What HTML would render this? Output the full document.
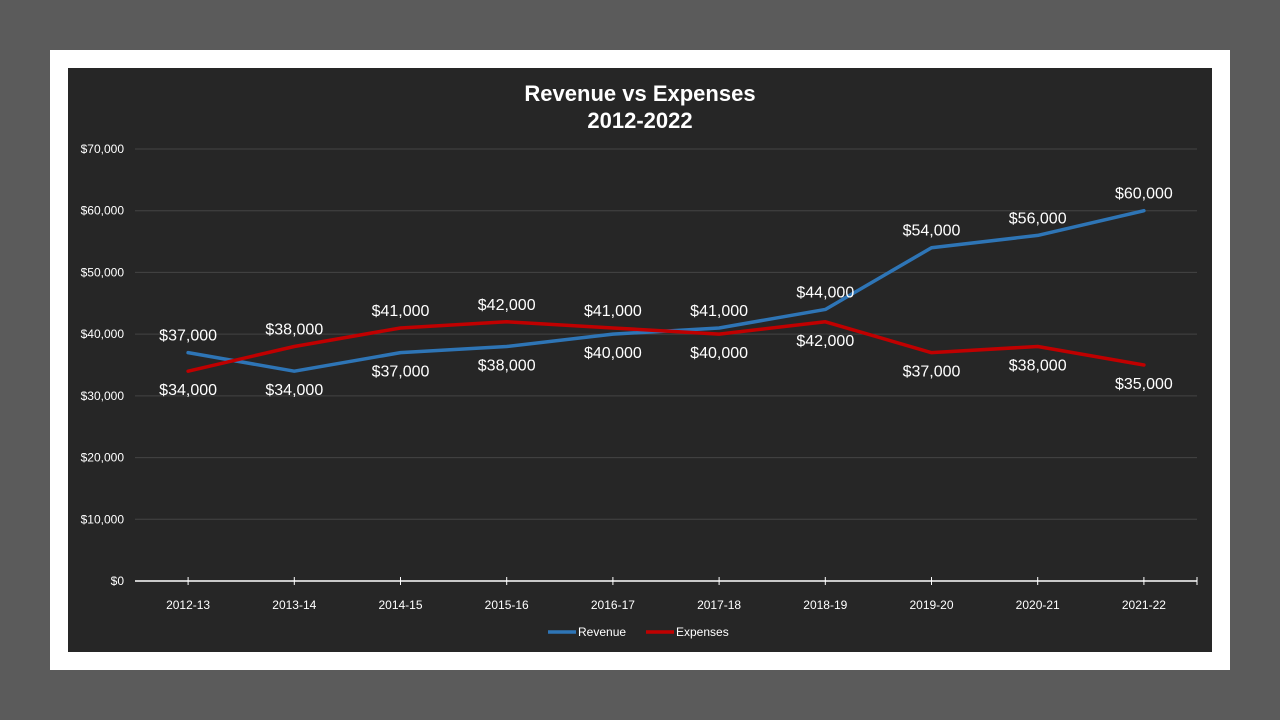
<!DOCTYPE html>
<html><head><meta charset="utf-8"><style>
body{margin:0;width:1280px;height:720px;background:#5b5b5b;overflow:hidden;font-family:"Liberation Sans",Arial,sans-serif}
#frame{position:absolute;left:50px;top:50px;width:1180px;height:620px;background:#fff}
#chart{position:absolute;left:68px;top:68px;width:1144px;height:584px;background:#262626}
svg{position:absolute;left:0;top:0}
</style></head><body>
<div id="frame"></div>
<div id="chart"></div>
<svg id="svg" width="1280" height="720">
<text x="640" y="101" fill="#fff" font-size="22" font-weight="bold" text-anchor="middle">Revenue vs Expenses</text>
<text x="640" y="128" fill="#fff" font-size="22" font-weight="bold" text-anchor="middle">2012-2022</text>
</svg>
<script>
const categories=["2012-13","2013-14","2014-15","2015-16","2016-17","2017-18","2018-19","2019-20","2020-21","2021-22"];
const revenue=[37000,34000,37000,38000,40000,41000,44000,54000,56000,60000];
const expenses=[34000,38000,41000,42000,41000,40000,42000,37000,38000,35000];
const revenueLabelAbove=[1,0,0,0,0,1,1,1,1,1];
const expensesLabelAbove=[0,1,1,1,1,0,0,0,0,0];
const yTicks=[0,10000,20000,30000,40000,50000,60000,70000];
const svg=document.getElementById('svg');
const NS='http://www.w3.org/2000/svg';
const x0=135,x1=1197,yB=581,yT=149,yMax=70000;
const step=(x1-x0)/categories.length;
const X=i=>x0+step*(i+0.5);
const Y=v=>yB-(v/yMax)*(yB-yT);
const fmt=v=>'$'+v.toLocaleString('en-US');
function mk(tag,attrs){const e=document.createElementNS(NS,tag);for(const k in attrs)e.setAttribute(k,attrs[k]);svg.appendChild(e);return e;}
yTicks.forEach(t=>{
 if(t>0){const g=mk('line',{x1:x0,x2:x1,y1:Y(t),y2:Y(t),stroke:'#444','stroke-width':1});
 
 }
 const l=mk('text',{x:124,y:Y(t)+4,fill:'#fff','font-size':12,'text-anchor':'end'});l.textContent=fmt(t);
 
 
});
const ax=mk('line',{x1:x0,x2:x1,y1:yB,y2:yB,stroke:'#fff','stroke-width':1.5});


categories.forEach((c,i)=>{
 const tk=mk('line',{x1:X(i),x2:X(i),y1:yB-4,y2:yB+4,stroke:'#fff'});
 
 
 const t=mk('text',{x:X(i),y:609,fill:'#fff','font-size':12,'text-anchor':'middle'});t.textContent=c;
 
 
});
const et=mk('line',{x1:x1,x2:x1,y1:yB-4,y2:yB+4,stroke:'#fff'});


function series(vals,color,above,name){
 const p=mk('polyline',{points:vals.map((v,i)=>X(i)+','+Y(v)).join(' '),fill:'none',stroke:color,'stroke-width':3.5,'stroke-linejoin':'round','stroke-linecap':'round'});
 
 
 vals.forEach((v,i)=>{
  const t=mk('text',{x:X(i),y:Y(v)+(above[i]?-12:24),fill:'#fff','font-size':16,'text-anchor':'middle'});t.textContent=fmt(v);
  
  
 });
}
series(revenue,'#2e75b6',revenueLabelAbove,'revenue');
series(expenses,'#c00000',expensesLabelAbove,'expenses');
[['Revenue','#2e75b6',548],['Expenses','#c00000',646]].forEach(([n,c,lx])=>{
 const l=mk('line',{x1:lx,x2:lx+28,y1:632,y2:632,stroke:c,'stroke-width':3.5});
 
 
 const t=mk('text',{x:lx+30,y:636,fill:'#fff','font-size':12});t.textContent=n;
 
 
});
</script>
</body></html>
